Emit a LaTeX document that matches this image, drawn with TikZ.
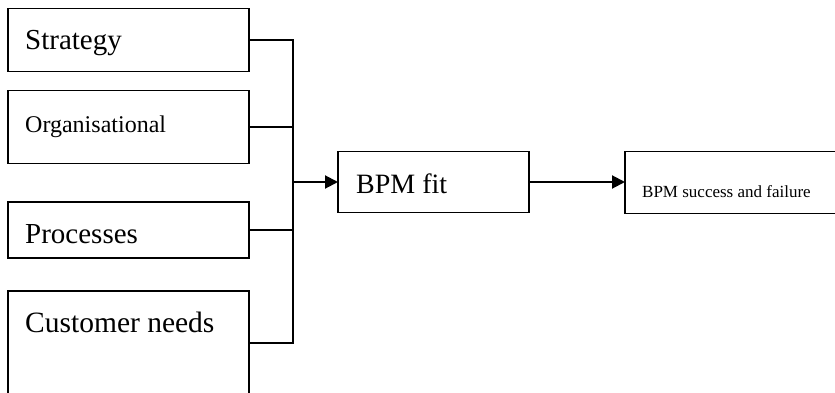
\documentclass[tikz,border=0pt]{standalone}
\usepackage{fontspec}
\setmainfont{Liberation Serif}
\usetikzlibrary{arrows.meta}
\begin{document}
\begin{tikzpicture}[x=1pt,y=-1pt,
  box/.style={draw=black,line width=1.2pt,inner sep=0pt,outer sep=0pt},
  lbl/.style={anchor=base west,inner sep=0pt,text=black},
  conn/.style={draw=black,line width=2pt},
  arr/.style={conn,-{Triangle[length=13pt,width=13pt]}}]
\useasboundingbox (0,0) rectangle (835,393);
\clip (0,0) rectangle (835,393);
\node[box,minimum width=241pt,minimum height=63pt] (s) at (128.5,40) {};
\node[box,minimum width=241pt,minimum height=73pt] (o) at (128.5,127) {};
\node[box,minimum width=241pt,minimum height=56pt] (p) at (128.5,230) {};
\node[box,minimum width=241pt,minimum height=103pt] (c) at (128.5,342.5) {};
\node[box,minimum width=191pt,minimum height=61pt] (f) at (433.5,182) {};
\node[box,minimum width=220pt,minimum height=62pt] (r) at (735,182.5) {};
\node[lbl,font=\fontsize{29}{33}\selectfont] (ts) at (25,50) {Strategy};
\node[lbl,font=\fontsize{24}{28}\selectfont] (to) at (25,133) {Organisational};
\node[lbl,font=\fontsize{29}{33}\selectfont] (tp) at (25,243) {Processes};
\node[lbl,font=\fontsize{29.5}{33}\selectfont] (tc) at (25,332) {Customer needs};
\node[lbl,font=\fontsize{28}{32}\selectfont] (tf) at (356,193) {BPM fit};
\node[lbl,font=\fontsize{17}{20}\selectfont] (tr) at (642,197) {BPM success and failure};
\coordinate (j) at (293,182);
\draw[conn] (s.east) -| (j);
\draw[conn] (o.east) -| (j);
\draw[conn] (p.east) -| (j);
\draw[conn] (c.east) -| (j);
\draw[arr] (j) -- (j -| f.west);
\draw[arr] (f.east) -- (f.east -| r.west);
\end{tikzpicture}
\end{document}
